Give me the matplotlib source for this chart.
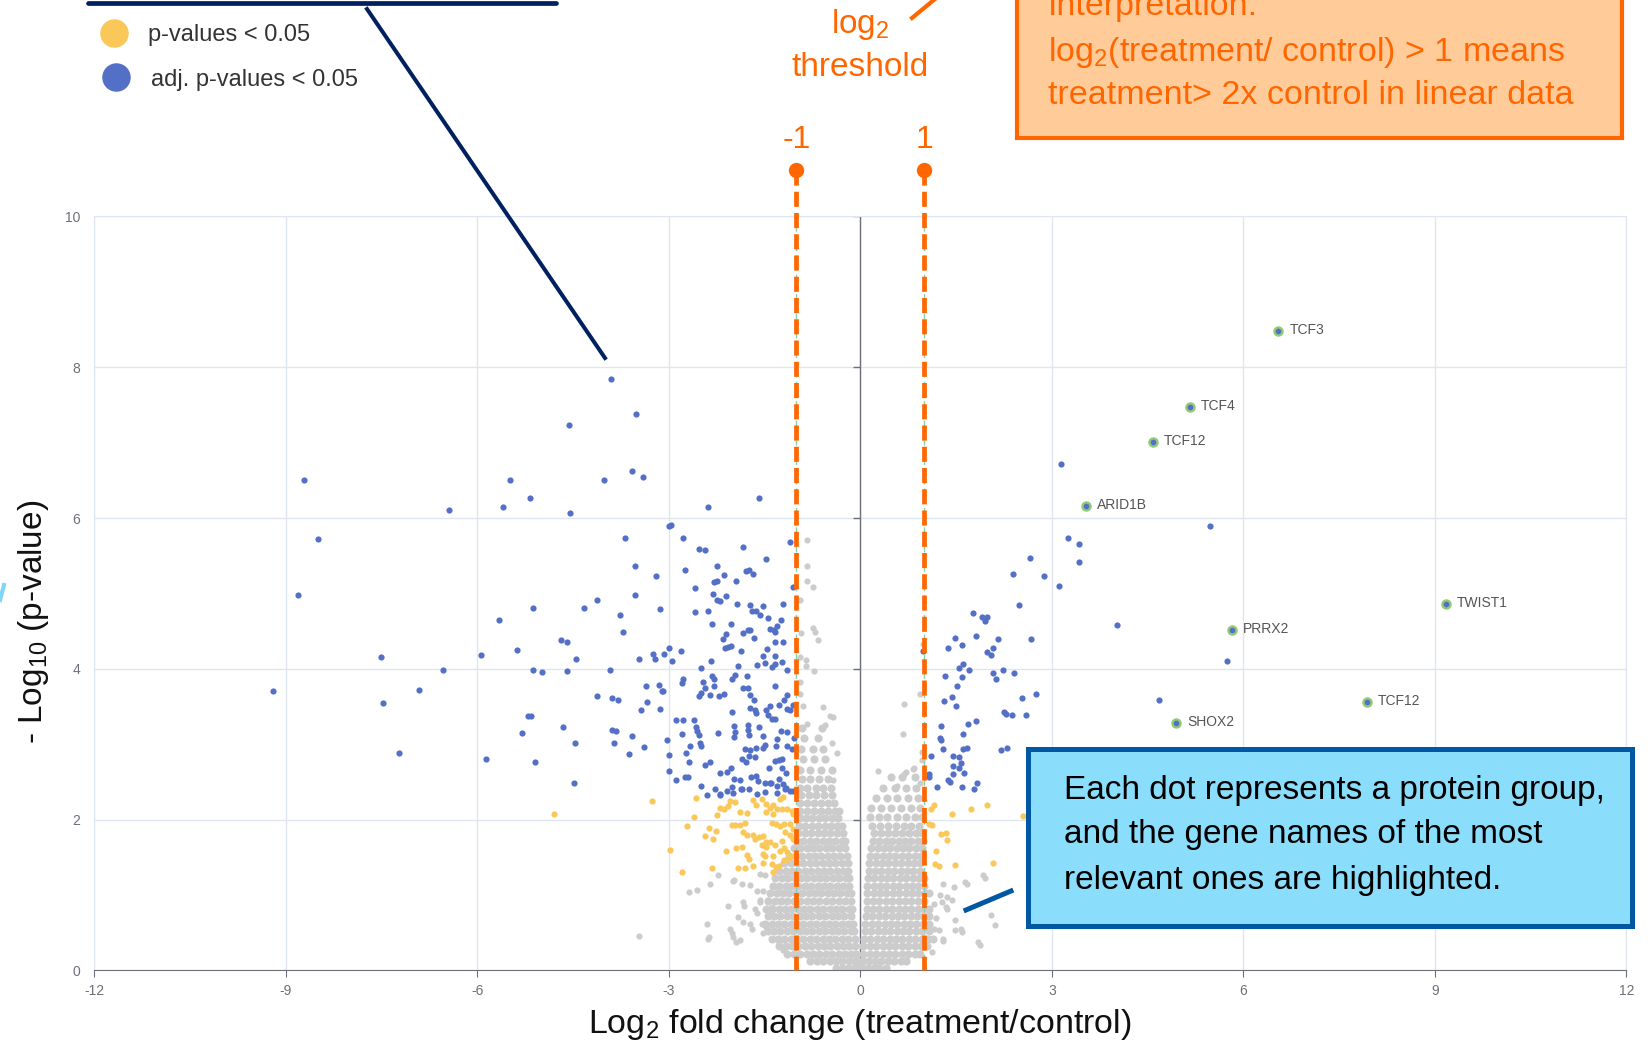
import numpy as np
import matplotlib
matplotlib.use("Agg")
import matplotlib.pyplot as plt
from matplotlib.lines import Line2D
from matplotlib.patches import Rectangle

plt.rcParams['font.family'] = ['Liberation Sans', 'DejaVu Sans']
plt.rcParams['mathtext.fontset'] = 'custom'
plt.rcParams['mathtext.rm'] = 'Liberation Sans'
plt.rcParams['mathtext.default'] = 'regular'
plt.rcParams['axes.unicode_minus'] = False

# ---- data: (log2 fold change, -log10 p) ----
# grey cloud, left arm, rows of y -> x values
grey_left_rows = {
    0.03: [-0.38, -0.28, -0.19, -0.10, -0.03],
    0.12: [-0.78, -0.68, -0.58, -0.48, -0.38, -0.28, -0.18, -0.09, -0.03],
    0.22: [-1.14, -1.04, -0.94, -0.84, -0.74, -0.64, -0.54, -0.44, -0.34, -0.24, -0.14, -0.06],
    0.32: [-1.27, -1.17, -1.07, -0.97, -0.87, -0.77, -0.67, -0.57, -0.47, -0.37, -0.27, -0.17, -0.08],
    0.42: [-1.39, -1.29, -1.19, -1.09, -0.99, -0.89, -0.79, -0.69, -0.59, -0.49, -0.39, -0.29, -0.19, -0.09],
    0.52: [-1.45, -1.35, -1.25, -1.15, -1.05, -0.95, -0.85, -0.75, -0.65, -0.55, -0.45, -0.35, -0.25, -0.15, -0.10],
    0.62: [-1.49, -1.39, -1.29, -1.19, -1.09, -0.99, -0.89, -0.79, -0.69, -0.59, -0.49, -0.39, -0.29, -0.19, -0.11],
    0.72: [-1.45, -1.35, -1.25, -1.15, -1.05, -0.95, -0.85, -0.75, -0.65, -0.55, -0.45, -0.35, -0.25, -0.15],
    0.82: [-1.48, -1.38, -1.28, -1.18, -1.08, -0.98, -0.88, -0.78, -0.68, -0.58, -0.48, -0.38, -0.28, -0.18, -0.13],
    0.92: [-1.44, -1.34, -1.24, -1.14, -1.04, -0.94, -0.84, -0.74, -0.64, -0.54, -0.44, -0.34, -0.24, -0.15],
    1.02: [-1.41, -1.31, -1.21, -1.11, -1.01, -0.91, -0.81, -0.71, -0.61, -0.51, -0.41, -0.31, -0.21, -0.15],
    1.12: [-1.37, -1.27, -1.17, -1.07, -0.97, -0.87, -0.77, -0.67, -0.57, -0.47, -0.37, -0.27, -0.17],
    1.22: [-1.33, -1.23, -1.13, -1.03, -0.93, -0.83, -0.73, -0.63, -0.53, -0.43, -0.33, -0.23, -0.17],
    1.32: [-1.27, -1.17, -1.07, -0.97, -0.87, -0.77, -0.67, -0.57, -0.47, -0.37, -0.27, -0.19],
    1.42: [-1.19, -1.09, -0.99, -0.89, -0.79, -0.69, -0.59, -0.49, -0.39, -0.29, -0.20],
    1.52: [-1.11, -1.01, -0.91, -0.81, -0.71, -0.61, -0.51, -0.41, -0.31, -0.21],
    1.62: [-1.04, -0.94, -0.84, -0.74, -0.64, -0.54, -0.44, -0.34, -0.24],
    1.72: [-0.99, -0.89, -0.79, -0.69, -0.59, -0.49, -0.39, -0.29, -0.24],
    1.82: [-0.97, -0.87, -0.77, -0.67, -0.57, -0.47, -0.37, -0.27],
    1.92: [-0.96, -0.86, -0.76, -0.66, -0.56, -0.46, -0.36, -0.28],
    2.02: [-0.95, -0.85, -0.75, -0.65, -0.55, -0.45, -0.35],
    2.12: [-0.94, -0.83, -0.72, -0.61, -0.50, -0.40, -0.33],
    2.22: [-0.95, -0.84, -0.73, -0.62, -0.51, -0.41],
    2.32: [-0.93, -0.81, -0.69, -0.57, -0.45],
    2.42: [-0.95, -0.83, -0.70, -0.58, -0.46],
    2.54: [-0.92, -0.79, -0.64, -0.50],
    2.66: [-0.94, -0.78, -0.61, -0.45],
    2.80: [-0.90, -0.72, -0.55],
    2.94: [-0.93, -0.74, -0.58],
    3.08: [-0.88, -0.66],
    3.22: [-0.92, -0.60],
}

# grey cloud, right arm
grey_right_rows = {
    0.03: [0.03, 0.12, 0.21, 0.30, 0.40],
    0.12: [0.04, 0.13, 0.23, 0.33, 0.43, 0.53, 0.63, 0.72],
    0.22: [0.05, 0.15, 0.25, 0.35, 0.45, 0.55, 0.65, 0.75, 0.85, 0.94],
    0.32: [0.05, 0.15, 0.25, 0.35, 0.45, 0.55, 0.65, 0.75, 0.85, 0.95, 1.05],
    0.42: [0.06, 0.16, 0.26, 0.36, 0.46, 0.56, 0.66, 0.76, 0.86, 0.96, 1.06, 1.14],
    0.52: [0.07, 0.17, 0.27, 0.37, 0.47, 0.57, 0.67, 0.77, 0.87, 0.97, 1.07],
    0.62: [0.08, 0.18, 0.28, 0.38, 0.48, 0.58, 0.68, 0.78, 0.88, 0.98, 1.08],
    0.72: [0.09, 0.19, 0.29, 0.39, 0.49, 0.59, 0.69, 0.79, 0.89, 0.99, 1.07],
    0.82: [0.10, 0.20, 0.30, 0.40, 0.50, 0.60, 0.70, 0.80, 0.90, 1.00, 1.08],
    0.92: [0.10, 0.20, 0.30, 0.40, 0.50, 0.60, 0.70, 0.80, 0.90, 1.00],
    1.02: [0.11, 0.21, 0.31, 0.41, 0.51, 0.61, 0.71, 0.81, 0.91, 1.01, 1.08],
    1.12: [0.11, 0.21, 0.31, 0.41, 0.51, 0.61, 0.71, 0.81, 0.91, 1.00],
    1.22: [0.12, 0.22, 0.32, 0.42, 0.52, 0.62, 0.72, 0.82, 0.92, 1.00],
    1.32: [0.13, 0.23, 0.33, 0.43, 0.53, 0.63, 0.73, 0.83, 0.93],
    1.42: [0.14, 0.24, 0.34, 0.44, 0.54, 0.64, 0.74, 0.84, 0.94],
    1.52: [0.15, 0.25, 0.35, 0.45, 0.55, 0.65, 0.75, 0.85, 0.95],
    1.62: [0.17, 0.27, 0.37, 0.47, 0.57, 0.67, 0.77, 0.87, 0.97],
    1.72: [0.20, 0.30, 0.40, 0.50, 0.60, 0.70, 0.80, 0.90, 0.98],
    1.82: [0.22, 0.33, 0.44, 0.55, 0.66, 0.77, 0.88, 0.97],
    1.92: [0.19, 0.31, 0.43, 0.56, 0.68, 0.80, 0.92],
    2.04: [0.16, 0.29, 0.42, 0.57, 0.71, 0.85, 0.97],
    2.16: [0.17, 0.33, 0.48, 0.63, 0.79, 0.93],
    2.28: [0.25, 0.42, 0.58, 0.74, 0.90],
    2.42: [0.36, 0.55, 0.72, 0.88],
    2.56: [0.48, 0.66, 0.85],
}

grey_sparse = [
    (-0.84, 5.71), (-0.84, 5.37), (-0.84, 5.16), (-0.74, 5.08), (-0.94, 4.91), (-0.74, 4.54),
    (-0.71, 4.49), (-0.66, 4.38), (-0.93, 4.47), (-0.94, 4.15), (-0.85, 4.12), (-0.85, 4.04),
    (-0.73, 3.97), (-0.94, 3.83), (-0.94, 3.67), (-0.89, 3.51), (-0.58, 3.49), (-0.47, 3.37),
    (-0.42, 3.36), (-0.55, 3.25), (-0.84, 3.27), (-0.45, 3.01), (-0.37, 2.88), (-0.43, 2.52),
    (-2.35, 1.14), (-1.99, 1.19), (-1.86, 1.15), (-1.73, 1.13), (-1.57, 1.28), (-1.49, 1.26),
    (-2.07, 0.86), (-1.83, 0.91), (-1.82, 0.86), (-1.57, 0.91), (-2.40, 0.62), (-1.91, 0.71),
    (-1.83, 0.64), (-1.73, 0.62), (-1.70, 0.55), (-2.04, 0.55), (-2.01, 0.49), (-1.99, 0.44),
    (-2.38, 0.42), (-1.88, 0.40), (-1.54, 0.62), (-1.47, 0.57), (-1.52, 0.49), (-1.44, 0.93),
    (-1.39, 0.84), (-1.41, 0.75), (-1.36, 0.42), (-1.28, 0.35), (-1.21, 0.27), (-1.65, 0.82),
    (-1.62, 0.76), (-3.47, 0.46), (-2.68, 1.04), (-2.55, 1.07), (-2.37, 0.44), (-1.94, 0.38),
    (-2.23, 1.27), (-1.98, 1.20), (-1.62, 1.05), (-1.52, 1.05), (-1.57, 0.93),
    (0.57, 2.45), (0.94, 2.48), (0.27, 2.65), (0.69, 2.60), (0.83, 2.67), (0.96, 2.79),
    (0.96, 2.90), (0.67, 3.13), (0.68, 3.53), (0.94, 3.67), (0.99, 4.33), (0.71, 2.63),
    (0.84, 2.69), (1.30, 1.14), (1.47, 1.11), (1.67, 1.14), (1.96, 1.23), (1.25, 1.00),
    (1.36, 0.97), (1.44, 0.93), (1.15, 0.88), (1.36, 0.82), (1.48, 0.67), (1.48, 0.54),
    (1.59, 0.51), (1.16, 0.55), (1.23, 0.54), (1.30, 0.39), (1.88, 0.34), (2.05, 0.73),
    (2.11, 0.60), (1.64, 1.17), (1.92, 1.27), (1.57, 0.55), (1.28, 0.91), (1.34, 0.84),
    (1.29, 0.42), (1.85, 0.37), (1.12, 0.25), (1.18, 0.70),
]

# p-value < 0.05 (yellow)
yellow_pts = [
    (-3.27, 2.24), (-2.57, 2.28), (-2.61, 2.03), (-2.71, 1.91), (-2.98, 1.60), (-2.80, 1.31),
    (-2.44, 1.78), (-2.37, 1.89), (-2.26, 1.85), (-2.30, 1.74), (-2.24, 2.06), (-2.20, 2.16),
    (-2.13, 2.14), (-2.07, 2.18), (-2.04, 2.25), (-1.96, 2.23), (-2.11, 1.58), (-2.32, 1.36),
    (-2.01, 1.93), (-1.96, 1.93), (-1.88, 1.93), (-1.80, 1.96), (-1.88, 2.10), (-1.78, 2.09),
    (-1.68, 2.26), (-1.63, 2.19), (-1.83, 1.84), (-1.78, 1.79), (-1.68, 1.80), (-1.95, 1.62),
    (-1.86, 1.63), (-1.78, 1.53), (-1.75, 1.48), (-1.92, 1.36), (-1.80, 1.36), (-1.68, 1.39),
    (-1.65, 1.74), (-1.58, 1.77), (-1.52, 1.78), (-1.47, 1.70), (-1.54, 2.27), (-1.47, 2.21),
    (-1.42, 2.16), (-1.36, 2.19), (-1.26, 2.27), (-1.21, 2.30), (-1.47, 2.10), (-1.36, 2.08),
    (-1.31, 2.14), (-1.23, 2.14), (-1.15, 2.14), (-1.07, 2.12), (-1.39, 1.96), (-1.32, 1.94),
    (-1.26, 1.92), (-1.20, 1.94), (-1.10, 1.94), (-1.54, 1.66), (-1.47, 1.63), (-1.41, 1.70),
    (-1.34, 1.66), (-1.23, 1.72), (-1.18, 1.83), (-1.10, 1.79), (-1.06, 1.74), (-1.52, 1.55),
    (-1.49, 1.52), (-1.36, 1.52), (-1.26, 1.59), (-1.20, 1.62), (-1.15, 1.57), (-1.07, 1.52),
    (-1.52, 1.43), (-1.39, 1.41), (-1.28, 1.39), (-1.20, 1.46), (-1.13, 1.48), (-1.37, 1.31),
    (-1.32, 1.37), (-1.06, 2.08), (-1.06, 1.88), (-4.79, 2.07),
    (1.15, 2.19), (1.43, 2.08), (1.73, 2.14), (1.98, 2.19), (2.55, 2.05), (1.13, 1.93),
    (1.26, 1.81), (1.35, 1.82), (1.36, 1.73), (1.18, 1.59), (1.17, 1.41), (1.23, 1.38),
    (1.48, 1.40), (2.08, 1.43), (1.11, 2.14), (1.08, 1.94),
]

# adjusted p-value < 0.05 (blue)
blue_pts = [
    (-8.71, 6.50), (-8.49, 5.72), (-8.80, 4.98), (-6.44, 6.11), (-9.20, 3.70), (-7.51, 4.15),
    (-7.48, 3.55), (-6.91, 3.72), (-6.54, 3.98), (-5.94, 4.18), (-7.23, 2.88), (-5.86, 2.81),
    (-3.91, 7.85), (-3.51, 7.38), (-4.56, 7.23), (-5.49, 6.51), (-5.18, 6.27), (-5.60, 6.15),
    (-4.54, 6.07), (-4.01, 6.51), (-3.57, 6.63), (-3.40, 6.54), (-2.39, 6.15), (-1.59, 6.27),
    (-3.00, 5.90), (-2.97, 5.91), (-3.69, 5.74), (-2.77, 5.74), (-2.53, 5.59), (-2.43, 5.58),
    (-1.84, 5.61), (-1.47, 5.46), (-1.10, 5.68), (-3.53, 5.37), (-2.75, 5.31), (-2.25, 5.36),
    (-2.13, 5.25), (-1.79, 5.30), (-1.75, 5.31), (-1.68, 5.26), (-1.94, 5.17), (-3.20, 5.23),
    (-2.29, 5.15), (-2.25, 5.16), (-2.59, 5.07), (-2.31, 4.99), (-2.11, 4.97), (-2.24, 4.91),
    (-2.20, 4.90), (-3.53, 4.98), (-4.12, 4.91), (-1.93, 4.86), (-1.72, 4.85), (-1.52, 4.83),
    (-1.21, 4.86), (-5.12, 4.81), (-4.32, 4.80), (-3.13, 4.79), (-3.77, 4.72), (-2.59, 4.75),
    (-2.38, 4.77), (-1.69, 4.77), (-1.63, 4.76), (-1.57, 4.72), (-1.45, 4.68), (-1.24, 4.65),
    (-2.33, 4.59), (-2.03, 4.59), (-1.41, 4.53), (-1.35, 4.51), (-1.30, 4.57), (-1.33, 4.49),
    (-1.84, 4.48), (-1.76, 4.51), (-1.72, 4.52), (-2.10, 4.46), (-2.15, 4.40), (-1.67, 4.41),
    (-3.72, 4.49), (-5.66, 4.65), (-5.37, 4.25), (-4.68, 4.38), (-4.59, 4.36), (-4.46, 4.13),
    (-5.13, 3.98), (-4.98, 3.96), (-4.59, 3.97), (-3.92, 3.99), (-3.46, 4.13), (-3.24, 4.20),
    (-3.21, 4.13), (-3.07, 4.20), (-2.99, 4.27), (-2.95, 4.10), (-2.81, 4.24), (-2.34, 4.10),
    (-2.12, 4.27), (-2.07, 4.29), (-2.02, 4.30), (-1.87, 4.23), (-1.46, 4.26), (-1.33, 4.36),
    (-1.21, 4.36), (-1.53, 4.17), (-1.34, 4.17), (-1.61, 4.05), (-1.49, 4.08), (-1.38, 4.02),
    (-1.33, 4.07), (-1.22, 4.09), (-1.92, 4.04), (-2.50, 4.01), (-1.14, 3.99), (-2.77, 3.86),
    (-2.79, 3.81), (-2.46, 3.83), (-2.32, 3.91), (-2.29, 3.87), (-2.01, 3.87), (-1.97, 3.92),
    (-1.77, 3.91), (-3.35, 3.77), (-3.15, 3.78), (-3.11, 3.70), (-3.09, 3.71), (-4.12, 3.64),
    (-3.89, 3.61), (-3.80, 3.59), (-2.44, 3.75), (-2.49, 3.68), (-2.53, 3.64), (-2.29, 3.77),
    (-2.36, 3.65), (-2.22, 3.64), (-2.13, 3.66), (-1.84, 3.74), (-1.76, 3.74), (-1.73, 3.65),
    (-1.33, 3.77), (-1.14, 3.65), (-1.19, 3.58), (-1.67, 3.58), (-3.34, 3.56), (-1.27, 3.52),
    (-1.42, 3.51), (-1.06, 3.52), (-1.72, 3.48), (-1.64, 3.42), (-1.65, 3.45), (-1.48, 3.45),
    (-1.45, 3.39), (-1.39, 3.33), (-1.34, 3.34), (-1.15, 3.47), (-1.10, 3.45), (-2.01, 3.43),
    (-3.43, 3.45), (-3.13, 3.47), (-5.21, 3.37), (-5.15, 3.37), (-2.88, 3.32), (-2.78, 3.32),
    (-2.61, 3.32), (-2.58, 3.23), (-2.55, 3.18), (-2.53, 3.12), (-1.98, 3.24), (-1.97, 3.16),
    (-1.98, 3.10), (-1.76, 3.25), (-1.76, 3.19), (-1.75, 3.12), (-1.59, 3.23), (-1.53, 3.11),
    (-2.23, 3.15), (-2.79, 3.13), (-4.66, 3.23), (-5.30, 3.15), (-4.47, 3.02), (-3.89, 3.19),
    (-3.82, 3.18), (-3.57, 3.11), (-3.86, 3.01), (-3.02, 3.06), (-1.31, 3.07), (-1.24, 3.18),
    (-1.15, 3.16), (-1.04, 3.08), (-2.51, 3.02), (-2.49, 2.98), (-2.67, 2.97), (-3.38, 2.96),
    (-3.63, 2.87), (-5.10, 2.76), (-4.49, 2.49), (-3.00, 2.86), (-2.73, 2.88), (-2.68, 2.77),
    (-3.00, 2.65), (-2.43, 2.73), (-2.35, 2.77), (-1.86, 2.81), (-1.79, 2.76), (-1.80, 2.94),
    (-1.72, 2.92), (-1.64, 2.95), (-1.52, 2.95), (-1.49, 2.99), (-1.74, 2.85), (-1.65, 2.83),
    (-1.32, 2.97), (-1.34, 2.78), (-1.28, 2.79), (-1.22, 2.81), (-1.15, 2.97), (-1.07, 2.94),
    (-1.43, 2.68), (-1.28, 2.54), (-1.22, 2.69), (-1.16, 2.62), (-2.19, 2.62), (-2.08, 2.63),
    (-2.03, 2.69), (-1.98, 2.54), (-1.88, 2.53), (-1.71, 2.56), (-1.64, 2.58), (-1.60, 2.51),
    (-1.49, 2.48), (-1.41, 2.49), (-2.89, 2.53), (-2.74, 2.57), (-2.70, 2.57), (-2.50, 2.44),
    (-2.27, 2.41), (-2.08, 2.38), (-2.01, 2.43), (-1.87, 2.41), (-1.75, 2.40), (-1.61, 2.34),
    (-1.49, 2.36), (-1.30, 2.35), (-1.21, 2.47), (-1.16, 2.42), (-1.10, 2.38), (-2.40, 2.33),
    (-2.19, 2.32), (-1.85, 2.41), (-1.99, 2.35), (-2.19, 2.34), (-1.40, 2.49), (-1.31, 2.45),
    (-1.18, 2.41), (-1.06, 2.38), (-1.05, 5.08),
    (1.76, 4.74), (1.90, 4.69), (1.98, 4.69), (1.95, 4.63), (2.49, 4.85), (1.49, 4.41),
    (1.82, 4.44), (2.16, 4.39), (1.38, 4.27), (1.60, 4.31), (1.98, 4.22), (2.05, 4.18),
    (2.08, 4.28), (1.61, 4.07), (1.54, 4.01), (1.71, 3.99), (1.32, 3.91), (1.59, 3.89),
    (2.08, 3.94), (2.24, 3.99), (2.41, 3.95), (2.13, 3.86), (1.51, 3.77), (1.43, 3.63),
    (1.31, 3.57), (1.50, 3.50), (2.54, 3.61), (2.25, 3.43), (2.28, 3.40), (2.38, 3.39),
    (1.82, 3.31), (1.69, 3.27), (1.26, 3.24), (1.25, 3.08), (1.26, 3.05), (1.61, 3.13),
    (1.29, 2.94), (1.61, 2.93), (1.67, 2.95), (2.20, 2.92), (2.30, 2.95), (1.11, 2.84),
    (1.45, 2.84), (1.55, 2.83), (1.57, 2.75), (1.46, 2.71), (1.55, 2.68), (1.63, 2.62),
    (1.45, 2.60), (1.07, 2.61), (1.08, 2.56), (0.99, 4.23), (2.59, 3.39), (1.37, 2.52),
    (1.83, 2.49), (1.78, 2.41), (1.59, 2.43), (1.20, 2.43), (1.41, 2.50),
    (3.14, 6.71), (5.48, 5.89), (3.26, 5.74), (3.42, 5.66), (3.42, 5.42), (2.66, 5.47),
    (2.39, 5.26), (2.87, 5.23), (3.11, 5.10), (4.02, 4.58), (2.68, 4.39), (5.74, 4.10),
    (2.75, 3.67), (4.68, 3.59),
]

# highlighted genes
genes = ['TCF3', 'TCF4', 'TCF12', 'ARID1B', 'TWIST1', 'PRRX2', 'TCF12', 'SHOX2']
gene_x = [6.55, 5.17, 4.58, 3.54, 9.18, 5.82, 7.94, 4.95]
gene_y = [8.48, 7.47, 7.01, 6.16, 4.86, 4.52, 3.56, 3.28]

thresholds = [-1, 1]
x_ticks = [-12, -9, -6, -3, 0, 3, 6, 9, 12]
y_ticks = [0, 2, 4, 6, 8, 10]

# ---- build arrays ----
cx, cy = [], []
for rows in (grey_left_rows, grey_right_rows):
    for yv, xs in rows.items():
        cx += xs
        cy += [yv] * len(xs)
sp = np.array(grey_sparse)
yel = np.array(yellow_pts)
blu = np.array(blue_pts)

W, H = 1652, 1045


def fp(x, y):
    # pixel position (from top-left) -> figure fraction
    return x / W, 1 - y / H


fig = plt.figure(figsize=(W / 100, H / 100), dpi=100)
ax = fig.add_axes([0.0570, 0.0714, 0.9275, 0.7215])

GRID = '#E0E6F1'
AXC = '#6E7079'
BLUE = '#5470C6'
YELLOW = '#FAC858'
GREY = '#CCCCCC'
ORANGE = '#FF6600'

# dense core drawn a bit bigger so the overlapping cloud reads as solid
ax.scatter(cx, cy, s=34, color=GREY, lw=0, zorder=2)
ax.scatter(sp[:, 0], sp[:, 1], s=20, color=GREY, lw=0, zorder=2)
ax.scatter(yel[:, 0], yel[:, 1], s=20, color=YELLOW, lw=0, zorder=3)
ax.scatter(blu[:, 0], blu[:, 1], s=20, color=BLUE, lw=0, zorder=3)
ax.scatter(gene_x, gene_y, s=34, color=BLUE, edgecolor='#91CC75', lw=1.7, zorder=4)
for g, xv, yv in zip(genes, gene_x, gene_y):
    ax.text(xv + 0.17, yv + 0.01, g, fontsize=10, color='#555555', va='center', ha='left', zorder=4)

ax.set_xlim(-12, 12)
ax.set_ylim(0, 10)
ax.set_xticks(x_ticks)
ax.set_xticklabels([str(t) for t in x_ticks])
ax.set_yticks(y_ticks)
ax.set_yticklabels([str(t) for t in y_ticks])
ax.grid(True, color=GRID, lw=1, zorder=0)
ax.set_axisbelow(True)
for s in ['top', 'right', 'left']:
    ax.spines[s].set_color(GRID)
ax.spines['bottom'].set_color(AXC)
ax.axvline(0, color=AXC, lw=1, zorder=1)
ax.plot(np.zeros(len(y_ticks)), y_ticks, ls='none', marker=0, ms=5, mew=1, color=AXC, zorder=1)
ax.tick_params(axis='x', colors=AXC, length=5, pad=5, labelsize=10)
ax.tick_params(axis='y', colors=AXC, length=0, pad=10, labelsize=10)

# threshold lines
for t in thresholds:
    ax.plot([t, t], [0, 10], color='#8CCFB0', lw=1, ls=(0, (4, 3)), zorder=5)
    ax.plot([t, t], [10.62, 0], color=ORANGE, lw=3.4, ls=(0, (3.2, 1.3)), clip_on=False, zorder=6)
    ax.plot([t], [10.62], 'o', ms=10, color=ORANGE, clip_on=False, zorder=6)
    ax.text(t, 11.02, str(t), color=ORANGE, fontsize=23, ha='center', va='center', clip_on=False)

# axis titles
fig.text(*fp(860, 1024), r'Log$_2$ fold change (treatment/control)', fontsize=24.5,
         ha='center', va='center', color='#111111')
fig.text(*fp(34, 622), r'- Log$_{10}$ (p-value)', fontsize=24, rotation=90,
         ha='center', va='center', color='#111111')

# legend
fig.add_artist(Line2D(*zip(fp(114, 33)), marker='o', ms=19.5, color=YELLOW, ls='none',
                      transform=fig.transFigure))
fig.add_artist(Line2D(*zip(fp(116, 77)), marker='o', ms=19.5, color=BLUE, ls='none',
                      transform=fig.transFigure))
fig.text(*fp(148, 35), 'p-values < 0.05', fontsize=17, color='#333333', va='center')
fig.text(*fp(151, 80), 'adj. p-values < 0.05', fontsize=17, color='#333333', va='center')

# navy callout (box cut off at top) and its pointer
NAVY = '#002060'
fig.add_artist(Line2D(*zip(fp(88, 3), fp(556, 3)), color=NAVY, lw=3.4,
                      solid_capstyle='round', transform=fig.transFigure))
fig.add_artist(Line2D(*zip(fp(367, 9), fp(605, 358)), color=NAVY, lw=2.9,
                      transform=fig.transFigure))

# orange threshold annotation
fig.text(*fp(860, 24), r'log$_2$', fontsize=24, color=ORANGE, ha='center', va='center')
fig.text(*fp(860, 68), 'threshold', fontsize=24, color=ORANGE, ha='center', va='center')
fig.add_artist(Line2D(*zip(fp(912, 18), fp(935, -1)), color=ORANGE, lw=3,
                      transform=fig.transFigure))
x0, y0 = fp(1017, 138)
x1, y1 = fp(1622, -20)
fig.add_artist(Rectangle((x0, y0), x1 - x0, y1 - y0, transform=fig.transFigure,
                         facecolor='#FFCC99', edgecolor=ORANGE, lw=3))
fig.text(*fp(1048, 7), 'Interpretation:', fontsize=24.5, color=ORANGE, va='center')
fig.text(*fp(1048, 52), r'log$_2$(treatment/ control) > 1 means', fontsize=24.5,
         color=ORANGE, va='center')
fig.text(*fp(1048, 96), 'treatment> 2x control in linear data', fontsize=24.5,
         color=ORANGE, va='center')

# blue callout
BOXB = '#0058A3'
x0, y0 = fp(1028, 926)
x1, y1 = fp(1632, 749)
fig.add_artist(Rectangle((x0, y0), x1 - x0, y1 - y0, transform=fig.transFigure,
                         facecolor='#8ADDFB', edgecolor=BOXB, lw=3.6))
fig.add_artist(Line2D(*zip(fp(966, 910), fp(1011, 891)), color=BOXB, lw=3.6,
                      transform=fig.transFigure))
for ty, line in zip([790, 835, 880], ['Each dot represents a protein group,',
                                      'and the gene names of the most',
                                      'relevant ones are highlighted.']):
    fig.text(*fp(1064, ty), line, fontsize=24, color='#000000', va='center')

# small cyan fragment at left edge
fig.add_artist(Line2D(*zip(fp(0, 600), fp(4, 585)), color='#7FD6F8', lw=3,
                      transform=fig.transFigure))

fig.savefig('out.png', dpi=100)
